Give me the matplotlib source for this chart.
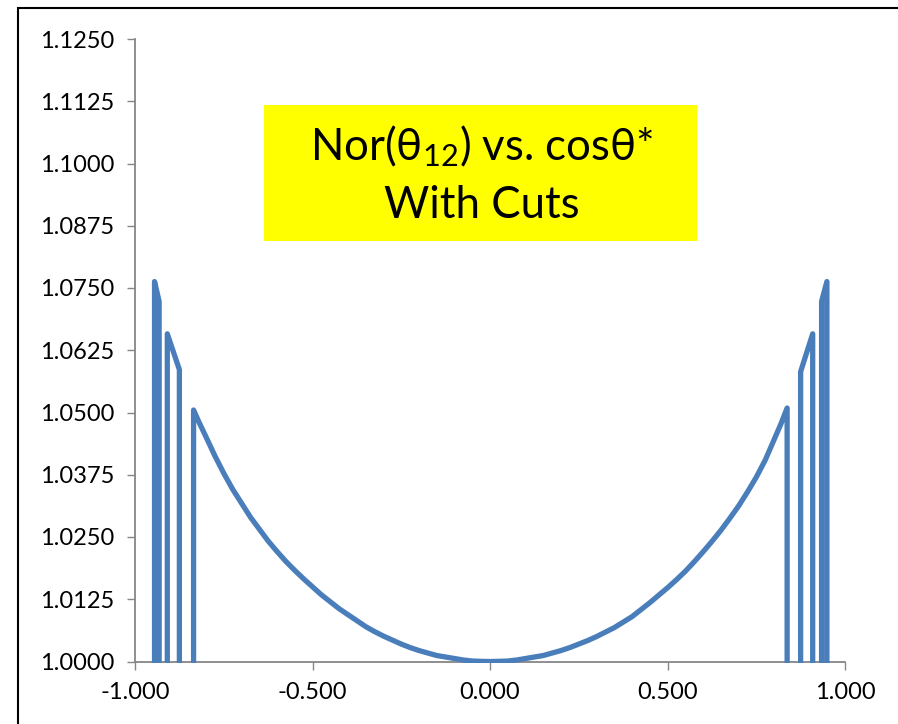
import matplotlib
matplotlib.use('Agg')
import matplotlib.pyplot as plt
from matplotlib.patches import Rectangle
from matplotlib.ticker import FormatStrFormatter, MultipleLocator

plt.rcParams['font.family'] = ['Lato', 'DejaVu Sans']
plt.rcParams['mathtext.fontset'] = 'custom'
plt.rcParams['mathtext.rm'] = 'Lato'
plt.rcParams['mathtext.it'] = 'Lato'

# cos(theta*) values, in the order the line runs; cut points sit at 0 (below the axis)
cos_theta = [-0.945, -0.945, -0.932, -0.932, -0.909, -0.909, -0.875, -0.875, -0.835, -0.835,
             -0.82, -0.80, -0.775, -0.75, -0.725, -0.70, -0.675, -0.65, -0.625, -0.60,
             -0.575, -0.55, -0.525, -0.50, -0.475, -0.45, -0.425, -0.40, -0.375, -0.35,
             -0.325, -0.30, -0.275, -0.25, -0.225, -0.20, -0.175, -0.15, -0.125, -0.10,
             -0.075, -0.05, -0.025, 0.00,
             0.025, 0.05, 0.075, 0.10, 0.125, 0.15, 0.175, 0.20, 0.225, 0.25,
             0.275, 0.30, 0.325, 0.35, 0.375, 0.40, 0.425, 0.45, 0.475, 0.50,
             0.525, 0.55, 0.575, 0.60, 0.625, 0.65, 0.675, 0.70, 0.725, 0.75,
             0.775, 0.80, 0.82,
             0.837, 0.837, 0.875, 0.875, 0.909, 0.909, 0.934, 0.934, 0.949, 0.949]
nor_theta12 = [0, 1.0763, 1.0723, 0, 0, 1.0658, 1.0586, 0, 0, 1.0505,
               1.0481, 1.0451, 1.0413, 1.0378, 1.0346, 1.0318, 1.0290, 1.0266, 1.0242, 1.0221,
               1.0201, 1.0183, 1.0166, 1.0150, 1.0134, 1.0120, 1.0106, 1.0094, 1.0082, 1.0070,
               1.0060, 1.0051, 1.0043, 1.0035, 1.0028, 1.0022, 1.0017, 1.0012, 1.0009, 1.0006,
               1.0003, 1.0001, 1.00003, 1.0000,
               1.00003, 1.0001, 1.0003, 1.0006, 1.0009, 1.0012, 1.0017, 1.0022, 1.0028, 1.0035,
               1.0042, 1.0050, 1.0059, 1.0068, 1.0079, 1.0090, 1.0104, 1.0118, 1.0133, 1.0148,
               1.0164, 1.0181, 1.0200, 1.0220, 1.0241, 1.0263, 1.0287, 1.0312, 1.0340, 1.0370,
               1.0404, 1.0445, 1.0478,
               1.0509, 0, 0, 1.0582, 1.0658, 0, 0, 1.0723, 1.0763, 0]

title_lines = [r'Nor($\mathrm{\theta}_{12}$) vs. cos$\mathrm{\theta}$*', 'With Cuts']

W, H = 898, 724
fig = plt.figure(figsize=(W / 100, H / 100), dpi=100)
ax = fig.add_axes([135 / W, (H - 661.5) / H, (845 - 135) / W, (661.5 - 39) / H])

line, = ax.plot(cos_theta, nor_theta12, color='#4a7ebb', lw=3.8,
                solid_joinstyle='round', solid_capstyle='butt', zorder=3)
# let the line reach slightly past the x axis like Excel does
clip = Rectangle((-1.1, 0.9996), 2.2, 0.2, transform=ax.transData)
line.set_clip_path(clip)

ax.set_xlim(-1, 1)
ax.set_ylim(1.0, 1.125)
ax.xaxis.set_major_locator(MultipleLocator(0.5))
ax.yaxis.set_major_locator(MultipleLocator(0.0125))
ax.xaxis.set_major_formatter(FormatStrFormatter('%.3f'))
ax.yaxis.set_major_formatter(FormatStrFormatter('%.4f'))

for s in ['top', 'right']:
    ax.spines[s].set_visible(False)
for s in ['left', 'bottom']:
    ax.spines[s].set_color('#868686')
    ax.spines[s].set_linewidth(1.3)
ax.tick_params(axis='both', length=6, width=1, color='#868686',
               labelsize=17, labelcolor='black', pad=9)

# outer chart frame
fig.add_artist(Rectangle((18 / W, -0.1), 1.2, (H - 8) / H + 0.1, transform=fig.transFigure,
                         fill=False, ec='black', lw=1.5))

# yellow title box
fig.add_artist(Rectangle((264 / W, (H - 241) / H), (697 - 264) / W, (241 - 105) / H,
                         transform=fig.transFigure, fc='#ffff00', ec='none'))
fig.text(482 / W, (H - 160) / H, title_lines[0], ha='center', va='baseline', fontsize=31.5)
fig.text(482 / W, (H - 218.3) / H, title_lines[1], ha='center', va='baseline', fontsize=31.5)

fig.savefig('out.png', dpi=100)
